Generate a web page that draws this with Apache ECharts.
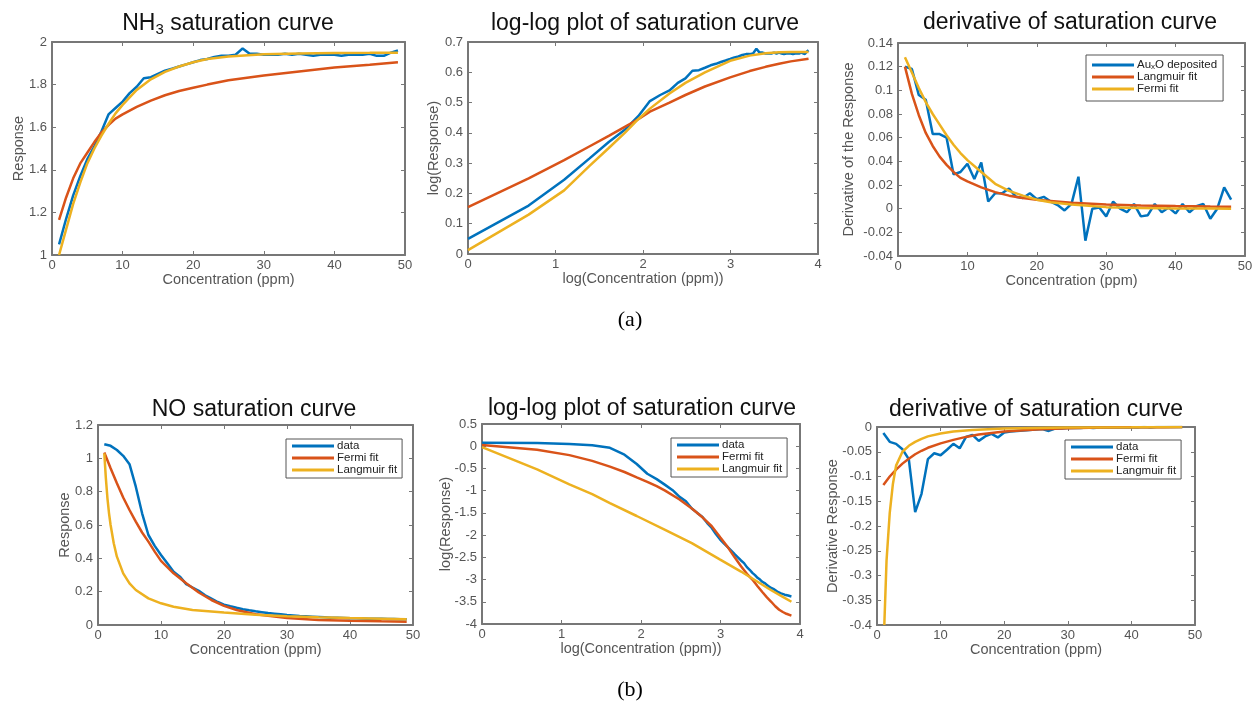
<!DOCTYPE html>
<html>
<head>
<meta charset="utf-8">
<script src="https://cdn.jsdelivr.net/npm/echarts@6/dist/echarts.min.js"></script>
<style>
  html, body { margin: 0; padding: 0; background: #fff; }
  #chart { width: 1259px; height: 710px; }
</style>
</head>
<body>
<div id="chart"></div>
<script>
// ---------- (a) NH3 on AuxO ----------
const nh3Conc = [1,2,3,4,5,6,7,8,9,10,11,12,13,14,15,16,17,18,19,20,21,22,23,24,25,26,27,28,29,30,31,32,33,34,35,36,37,38,39,40,41,42,43,44,45,46,47,48,49];
const nh3Data = [1.05,1.17,1.28,1.37,1.45,1.51,1.58,1.66,1.69,1.72,1.76,1.79,1.83,1.835,1.85,1.865,1.875,1.885,1.895,1.905,1.915,1.92,1.93,1.935,1.935,1.94,1.97,1.945,1.945,1.94,1.94,1.94,1.945,1.94,1.945,1.94,1.935,1.94,1.94,1.94,1.935,1.94,1.94,1.94,1.945,1.935,1.935,1.95,1.96];
const nh3FitConc = [1,2,3,4,5,6,7,8,9,10,12,14,16,18,20,22,25,30,35,40,45,49];
const nh3Langmuir = [1.165,1.27,1.36,1.43,1.48,1.53,1.575,1.61,1.64,1.66,1.695,1.725,1.75,1.77,1.785,1.8,1.82,1.843,1.862,1.88,1.893,1.905];
const nh3Fermi = [1.0,1.12,1.24,1.34,1.43,1.5,1.56,1.615,1.665,1.705,1.775,1.825,1.86,1.885,1.905,1.92,1.932,1.942,1.946,1.948,1.949,1.95];

const nh3LogConc = [0,0.693,1.099,1.386,1.609,1.792,1.946,2.079,2.197,2.303,2.398,2.485,2.565,2.639,2.708,2.773,2.833,2.890,2.944,2.996,3.045,3.091,3.135,3.178,3.219,3.258,3.296,3.332,3.367,3.401,3.434,3.466,3.497,3.526,3.555,3.584,3.611,3.638,3.664,3.689,3.714,3.738,3.761,3.784,3.807,3.829,3.850,3.871,3.892];
const nh3LogData = [0.05,0.16,0.245,0.315,0.37,0.41,0.455,0.505,0.525,0.54,0.565,0.58,0.605,0.607,0.615,0.623,0.628,0.634,0.639,0.644,0.649,0.652,0.657,0.66,0.66,0.662,0.678,0.665,0.665,0.662,0.662,0.662,0.665,0.662,0.665,0.662,0.66,0.662,0.662,0.662,0.66,0.662,0.662,0.662,0.665,0.66,0.66,0.668,0.673];
const nh3LogFitConc = [0,0.693,1.099,1.386,1.609,1.792,1.946,2.079,2.303,2.485,2.708,2.996,3.219,3.401,3.555,3.689,3.892];
const nh3LogLangmuir = [0.155,0.25,0.31,0.355,0.39,0.42,0.445,0.47,0.5,0.525,0.553,0.583,0.604,0.618,0.628,0.636,0.645];
const nh3LogFermi = [0.013,0.13,0.21,0.29,0.35,0.40,0.445,0.48,0.53,0.565,0.6,0.638,0.655,0.663,0.666,0.667,0.667];

const nh3DerivConc = [1,2,3,4,5,6,7,8,9,10,11,12,13,14,15,16,17,18,19,20,21,22,23,24,25,26,27,28,29,30,31,32,33,34,35,36,37,38,39,40,41,42,43,44,45,46,47,48];
const nh3DerivData = [0.12,0.118,0.096,0.092,0.063,0.063,0.06,0.029,0.031,0.038,0.025,0.039,0.006,0.013,0.013,0.017,0.01,0.009,0.013,0.008,0.01,0.006,0.003,-0.0015,0.004,0.027,-0.027,0.0,0.001,-0.0065,0.006,0.0,-0.003,0.004,-0.0065,-0.0055,0.004,-0.003,0.001,-0.004,0.004,-0.003,0.002,0.004,-0.0085,0.0,0.018,0.0076];
const nh3DerivFitConc = [1,2,3,4,5,6,7,8,9,10,12,14,16,18,20,22,25,30,35,40,45,48];
const nh3DerivLangmuir = [0.12,0.097,0.079,0.064,0.053,0.044,0.037,0.031,0.026,0.023,0.018,0.014,0.011,0.009,0.0075,0.0065,0.005,0.0035,0.0027,0.0022,0.0018,0.0016];
const nh3DerivFermi = [0.128,0.115,0.102,0.09,0.08,0.071,0.062,0.054,0.047,0.041,0.031,0.021,0.015,0.011,0.0076,0.0055,0.0035,0.0013,0.0005,0.0002,0.0001,0.0];

// ---------- (b) NO ----------
const noConc = [1,2,3,4,5,6,7,8,9,10,11,12,13,14,15,16,17,18,19,20,21,22,23,24,25,26,27,28,29,30,31,32,33,34,35,36,37,38,39,40,41,42,43,44,45,46,47,48,49];
const noData = [1.085,1.075,1.05,1.015,0.965,0.83,0.67,0.54,0.475,0.42,0.37,0.32,0.29,0.245,0.225,0.205,0.178,0.158,0.138,0.122,0.112,0.103,0.095,0.088,0.082,0.077,0.072,0.068,0.064,0.06,0.057,0.054,0.052,0.05,0.048,0.046,0.044,0.043,0.042,0.041,0.04,0.039,0.038,0.037,0.037,0.036,0.036,0.035,0.035];
const noFermiConc = [1,2,3,4,5,6,7,8,9,10,12,14,16,18,20,22,25,30,35,40,45,49];
const noFermi = [1.035,0.94,0.85,0.765,0.69,0.62,0.555,0.5,0.44,0.385,0.31,0.25,0.195,0.15,0.115,0.09,0.065,0.042,0.03,0.025,0.022,0.02];
const noLangmuirConc = [1,1.25,1.5,1.75,2,2.5,3,4,5,6,8,10,12,15,20,25,30,35,40,45,49];
const noLangmuir = [1.03,0.88,0.76,0.67,0.6,0.49,0.41,0.31,0.25,0.21,0.16,0.13,0.11,0.09,0.075,0.062,0.053,0.047,0.042,0.038,0.035];

const noLogConc = [0,0.693,1.099,1.386,1.609,1.792,1.946,2.079,2.197,2.303,2.398,2.485,2.565,2.639,2.708,2.773,2.833,2.890,2.944,2.996,3.045,3.091,3.135,3.178,3.219,3.258,3.296,3.332,3.367,3.401,3.434,3.466,3.497,3.526,3.555,3.584,3.611,3.638,3.664,3.689,3.714,3.738,3.761,3.784,3.807,3.829,3.850,3.871,3.892];
const noLogData = [0.08,0.07,0.05,0.02,-0.035,-0.19,-0.4,-0.62,-0.74,-0.87,-0.99,-1.14,-1.24,-1.4,-1.5,-1.59,-1.73,-1.84,-1.98,-2.1,-2.19,-2.27,-2.35,-2.43,-2.5,-2.57,-2.63,-2.72,-2.78,-2.85,-2.9,-2.96,-3.0,-3.05,-3.08,-3.12,-3.16,-3.19,-3.21,-3.24,-3.27,-3.29,-3.31,-3.32,-3.34,-3.35,-3.36,-3.37,-3.38];
const noLogFermiConc = [0,0.693,1.099,1.386,1.609,1.792,1.946,2.079,2.197,2.303,2.485,2.639,2.773,2.890,2.996,3.091,3.178,3.258,3.332,3.401,3.466,3.526,3.584,3.638,3.689,3.738,3.784,3.829,3.892];
const noLogFermi = [0.03,-0.08,-0.2,-0.33,-0.46,-0.58,-0.7,-0.8,-0.9,-1.0,-1.2,-1.4,-1.6,-1.8,-2.05,-2.27,-2.5,-2.7,-2.87,-3.0,-3.15,-3.28,-3.4,-3.5,-3.6,-3.68,-3.73,-3.77,-3.81];
const noLogLangmuirConc = [0,0.693,1.099,1.386,1.609,1.946,2.303,2.639,2.996,3.258,3.466,3.638,3.784,3.892];
const noLogLangmuir = [-0.02,-0.52,-0.86,-1.08,-1.28,-1.57,-1.88,-2.18,-2.55,-2.82,-3.05,-3.24,-3.39,-3.5];

const noDerivConc = [1,2,3,4,5,6,7,8,9,10,11,12,13,14,15,16,17,18,19,20,21,22,23,24,25,26,27,28,29,30,31,32,33,34,35,36,37,38,39,40,41,42,43,44,45,46,47,48];
const noDerivData = [-0.012,-0.03,-0.034,-0.045,-0.065,-0.172,-0.135,-0.065,-0.053,-0.057,-0.046,-0.034,-0.043,-0.02,-0.016,-0.028,-0.019,-0.014,-0.021,-0.011,-0.009,-0.008,-0.007,-0.006,-0.005,-0.004,-0.008,-0.003,-0.003,-0.002,-0.002,-0.002,-0.001,-0.002,-0.001,-0.001,-0.001,-0.001,-0.001,-0.001,-0.001,0,-0.001,0,0,0,0,0];
const noDerivFermiConc = [1,2,3,4,5,6,7,8,10,12,14,16,18,20,25,30,35,40,45,48];
const noDerivFermi = [-0.117,-0.1,-0.086,-0.074,-0.064,-0.055,-0.048,-0.042,-0.033,-0.026,-0.02,-0.015,-0.012,-0.009,-0.005,-0.0025,-0.0012,-0.0006,-0.0003,-0.0002];
const noDerivLangmuirConc = [1.15,1.5,2,2.5,3,4,5,6,7,8,10,12,15,20,25,30,40,48];
const noDerivLangmuir = [-0.4,-0.27,-0.174,-0.115,-0.078,-0.05,-0.038,-0.03,-0.024,-0.019,-0.013,-0.009,-0.006,-0.003,-0.002,-0.001,-0.0005,0];

// ---------- styling ----------
const BLUE = '#0072BD', RED = '#D95319', YELLOW = '#EDB120';
const AXIS = '#777777', LABEL = '#555555';
const SANS = '"Liberation Sans", Arial, Helvetica, sans-serif';

const panels = [
  { grid: { left: 52, top: 42, width: 353, height: 213 }, x: [0, 50, 10], y: [1, 2, 0.2],
    xName: 'Concentration (ppm)', yName: 'Response', yGap: 26 },
  { grid: { left: 468, top: 42, width: 350, height: 212 }, x: [0, 4, 1], y: [0, 0.7, 0.1],
    xName: 'log(Concentration (ppm))', yName: 'log(Response)', yGap: 27 },
  { grid: { left: 898, top: 43, width: 347, height: 213 }, x: [0, 50, 10], y: [-0.04, 0.14, 0.02],
    xName: 'Concentration (ppm)', yName: 'Derivative of the Response', yGap: 42 },
  { grid: { left: 98, top: 425, width: 315, height: 200 }, x: [0, 50, 10], y: [0, 1.2, 0.2],
    xName: 'Concentration (ppm)', yName: 'Response', yGap: 26 },
  { grid: { left: 482, top: 424, width: 318, height: 200 }, x: [0, 4, 1], y: [-4, 0.5, 0.5],
    xName: 'log(Concentration (ppm))', yName: 'log(Response)', yGap: 29 },
  { grid: { left: 877, top: 427, width: 318, height: 198 }, x: [0, 50, 10], y: [-0.4, 0, 0.05],
    xName: 'Concentration (ppm)', yName: 'Derivative Response', yGap: 37 }
];

const grids = [], xAxes = [], yAxes = [];
panels.forEach((p, i) => {
  grids.push(Object.assign({ show: false }, p.grid));
  const line = { show: true, onZero: false, lineStyle: { color: AXIS, width: 2 } };
  const tick = { show: true, inside: true, length: 4, lineStyle: { color: AXIS, width: 1 } };
  // bottom / left axes carry labels and names
  xAxes.push({ type: 'value', gridIndex: i, position: 'bottom', min: p.x[0], max: p.x[1], interval: p.x[2],
    axisLine: line, axisTick: tick, splitLine: { show: false },
    axisLabel: { color: LABEL, fontSize: 13, fontFamily: SANS, margin: 4 },
    name: p.xName, nameLocation: 'middle', nameGap: 17, nameMoveOverlap: false,
    nameTextStyle: { color: LABEL, fontSize: 14.5, fontFamily: SANS } });
  // mirrored top axis: ticks only
  xAxes.push({ type: 'value', gridIndex: i, position: 'top', min: p.x[0], max: p.x[1], interval: p.x[2],
    axisLine: line, axisTick: tick, axisLabel: { show: false }, splitLine: { show: false } });
  yAxes.push({ type: 'value', gridIndex: i, position: 'left', min: p.y[0], max: p.y[1], interval: p.y[2],
    axisLine: line, axisTick: tick, splitLine: { show: false },
    axisLabel: { color: LABEL, fontSize: 13, fontFamily: SANS, margin: 5 },
    name: p.yName, nameLocation: 'middle', nameGap: p.yGap, nameMoveOverlap: false,
    nameTextStyle: { color: LABEL, fontSize: 14.5, fontFamily: SANS } });
  // mirrored right axis: ticks only
  yAxes.push({ type: 'value', gridIndex: i, position: 'right', min: p.y[0], max: p.y[1], interval: p.y[2],
    axisLine: line, axisTick: tick, axisLabel: { show: false }, splitLine: { show: false } });
});

function pairs(xs, ys) { return xs.map((x, k) => [x, ys[k]]); }
function curve(name, panel, xs, ys, color) {
  return { type: 'line', name, xAxisIndex: panel * 2, yAxisIndex: panel * 2,
    data: pairs(xs, ys), showSymbol: false, symbol: 'none', clip: true, silent: true,
    lineStyle: { color, width: 2.5 }, itemStyle: { color } };
}

const series = [
  curve('data', 0, nh3Conc, nh3Data, BLUE),
  curve('Langmuir fit', 0, nh3FitConc, nh3Langmuir, RED),
  curve('Fermi fit', 0, nh3FitConc, nh3Fermi, YELLOW),
  curve('data', 1, nh3LogConc, nh3LogData, BLUE),
  curve('Langmuir fit', 1, nh3LogFitConc, nh3LogLangmuir, RED),
  curve('Fermi fit', 1, nh3LogFitConc, nh3LogFermi, YELLOW),
  curve('AuxO deposited', 2, nh3DerivConc, nh3DerivData, BLUE),
  curve('Langmuir fit', 2, nh3DerivFitConc, nh3DerivLangmuir, RED),
  curve('Fermi fit', 2, nh3DerivFitConc, nh3DerivFermi, YELLOW),
  curve('data', 3, noConc, noData, BLUE),
  curve('Fermi fit', 3, noFermiConc, noFermi, RED),
  curve('Langmuir fit', 3, noLangmuirConc, noLangmuir, YELLOW),
  curve('data', 4, noLogConc, noLogData, BLUE),
  curve('Fermi fit', 4, noLogFermiConc, noLogFermi, RED),
  curve('Langmuir fit', 4, noLogLangmuirConc, noLogLangmuir, YELLOW),
  curve('data', 5, noDerivConc, noDerivData, BLUE),
  curve('Fermi fit', 5, noDerivFermiConc, noDerivFermi, RED),
  curve('Langmuir fit', 5, noDerivLangmuirConc, noDerivLangmuir, YELLOW)
];

function legendBox(left, top, items, padding) {
  return {
    orient: 'vertical', left, top, selectedMode: false, icon: 'rect',
    itemWidth: 42, itemHeight: 3, itemGap: 0, padding: padding || [1, 5, 2, 6],
    backgroundColor: '#fff', borderColor: '#555', borderWidth: 1,
    textStyle: { fontSize: 11.5, lineHeight: 12, color: '#222', fontFamily: SANS, padding: [0, 0, 0, -2],
      rich: { t: { fontSize: 11.5, color: '#222', fontFamily: SANS },
              s: { fontSize: 8, color: '#222', fontFamily: SANS, verticalAlign: 'bottom', padding: [6, 0, 0, 0] } } },
    formatter: n => n === 'AuxO deposited' ? '{t|Au}{s|x}{t|O deposited}' : n,
    data: items.map(it => ({ name: it[0], itemStyle: { color: it[1] } }))
  };
}

const legends = [
  legendBox(1086, 55, [['AuxO deposited', BLUE], ['Langmuir fit', RED], ['Fermi fit', YELLOW]], [4, 6, 6, 6]),
  legendBox(286, 439, [['data', BLUE], ['Fermi fit', RED], ['Langmuir fit', YELLOW]]),
  legendBox(671, 438, [['data', BLUE], ['Fermi fit', RED], ['Langmuir fit', YELLOW]]),
  legendBox(1065, 440, [['data', BLUE], ['Fermi fit', RED], ['Langmuir fit', YELLOW]])
];

const TITLE_FONT = 23;
function titleText(x, y, text, rich) {
  return { type: 'text', x, y, silent: true,
    style: { text, textAlign: 'center', textVerticalAlign: 'middle', fill: '#111',
      font: TITLE_FONT + 'px ' + SANS, rich } };
}

const graphics = [
  titleText(228, 24, '{t|NH}{s|3}{t| saturation curve}', {
    t: { fontSize: TITLE_FONT, fontFamily: SANS, color: '#111' },
    s: { fontSize: 15, fontFamily: SANS, color: '#111', verticalAlign: 'bottom', padding: [11, 0, 0, 0] } }),
  titleText(645, 24, 'log-log plot of saturation curve'),
  titleText(1070, 23, 'derivative of saturation curve'),
  titleText(254, 410, 'NO saturation curve'),
  titleText(642, 409, 'log-log plot of saturation curve'),
  titleText(1036, 410, 'derivative of saturation curve'),
  { type: 'text', x: 630, y: 320, silent: true,
    style: { text: '(a)', textAlign: 'center', textVerticalAlign: 'middle', fill: '#000',
      font: '22px "Liberation Serif", "Times New Roman", serif' } },
  { type: 'text', x: 630, y: 690, silent: true,
    style: { text: '(b)', textAlign: 'center', textVerticalAlign: 'middle', fill: '#000',
      font: '22px "Liberation Serif", "Times New Roman", serif' } }
];

const chart = echarts.init(document.getElementById('chart'), null, { renderer: 'canvas' });
chart.setOption({
  animation: false,
  backgroundColor: '#ffffff',
  grid: grids,
  xAxis: xAxes,
  yAxis: yAxes,
  legend: legends,
  series,
  graphic: graphics
});
</script>
</body>
</html>
